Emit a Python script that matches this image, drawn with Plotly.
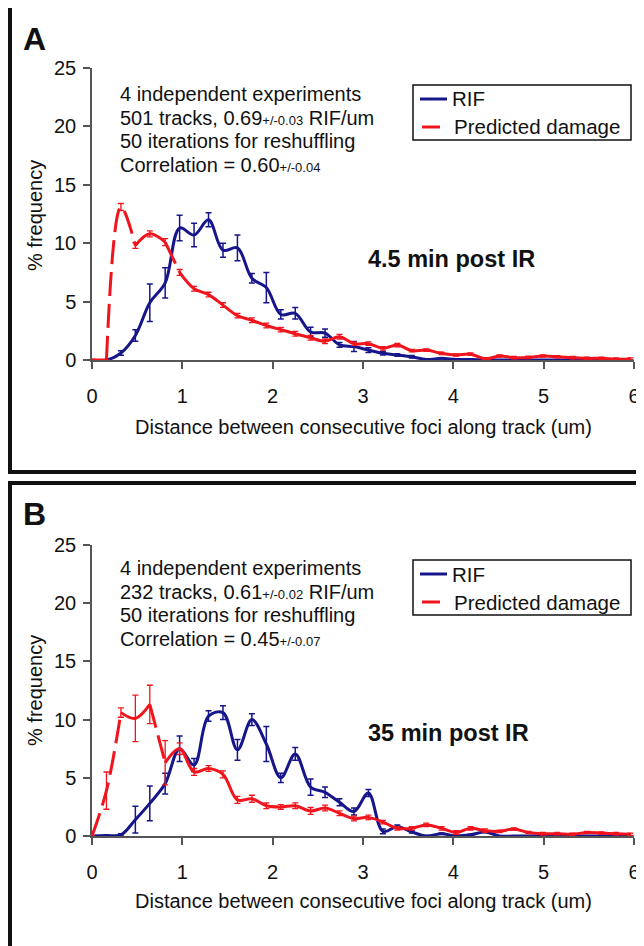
import plotly.graph_objects as go

# ---------------- data ----------------
distance_um = [0.00, 0.16, 0.32, 0.48, 0.64, 0.81, 0.97, 1.13, 1.29, 1.45,
               1.61, 1.77, 1.93, 2.09, 2.25, 2.42, 2.58, 2.74, 2.90, 3.06,
               3.22, 3.38, 3.54, 3.70, 3.87, 4.03, 4.19, 4.35, 4.51, 4.67,
               4.83, 4.99, 5.15, 5.32, 5.48, 5.64, 5.80, 5.96]

# Panel A (4.5 min post IR)
rif_a = [0.0, 0.0, 0.6, 2.1, 4.9, 6.6, 11.3, 10.7, 12.0, 9.4,
         9.6, 7.0, 6.2, 3.9, 4.0, 2.4, 2.3, 1.3, 1.15, 0.85,
         0.57, 0.43, 0.28, 0.05, 0.14, 0.05, 0.05, 0.0, 0.0, 0.0,
         0.0, 0.0, 0.0, 0.0, 0.0, 0.0, 0.0, 0.0]
rif_a_err = [0.0, 0.0, 0.2, 0.5, 1.6, 1.3, 1.1, 1.0, 0.6, 0.6,
             1.1, 0.4, 1.3, 0.4, 0.5, 0.4, 0.35, 0.2, 0.43, 0.2,
             0.15, 0.1, 0.1, 0.05, 0.05, 0.05, 0.05, 0.0, 0.0, 0.0,
             0.0, 0.0, 0.0, 0.0, 0.0, 0.0, 0.0, 0.0]
dmg_a = [0.0, 0.0, 13.1, 9.8, 10.8, 10.1, 7.5, 6.1, 5.6, 4.7,
         3.8, 3.4, 2.95, 2.6, 2.25, 1.9, 1.6, 2.0, 1.4, 1.4,
         1.0, 1.28, 0.8, 0.85, 0.57, 0.43, 0.5, 0.1, 0.34, 0.2,
         0.22, 0.34, 0.28, 0.2, 0.14, 0.14, 0.08, 0.08]
dmg_a_err = [0.0, 0.0, 0.3, 0.25, 0.25, 0.3, 0.25, 0.2, 0.2, 0.2,
             0.2, 0.2, 0.2, 0.2, 0.2, 0.2, 0.2, 0.2, 0.15, 0.15,
             0.15, 0.15, 0.1, 0.1, 0.1, 0.1, 0.1, 0.1, 0.1, 0.1,
             0.1, 0.1, 0.1, 0.1, 0.1, 0.1, 0.1, 0.1]

# Panel B (35 min post IR)
rif_b = [0.0, 0.05, 0.1, 1.4, 2.8, 4.5, 7.5, 6.1, 10.3, 10.6,
         7.4, 10.0, 7.9, 5.0, 7.05, 4.2, 3.75, 2.9, 2.1, 3.7,
         0.4, 0.8, 0.35, 0.0, 0.2, 0.0, 0.1, 0.35, 0.0, 0.0,
         0.0, 0.0, 0.0, 0.0, 0.0, 0.0, 0.0, 0.0]
rif_b_err = [0.0, 0.0, 0.1, 1.15, 1.5, 0.9, 1.1, 0.55, 0.45, 0.6,
             0.9, 0.5, 1.5, 0.4, 0.55, 0.7, 0.45, 0.3, 0.3, 0.3,
             0.2, 0.15, 0.1, 0.05, 0.05, 0.05, 0.05, 0.05, 0.0, 0.0,
             0.0, 0.0, 0.0, 0.0, 0.0, 0.0, 0.0, 0.0]
dmg_b = [0.0, 3.9, 10.6, 10.1, 11.3, 6.3, 7.5, 5.5, 5.8, 5.3,
         3.1, 3.2, 2.6, 2.5, 2.6, 2.15, 2.4, 1.95, 1.5, 1.6,
         1.2, 0.66, 0.66, 0.95, 0.66, 0.3, 0.66, 0.46, 0.4, 0.6,
         0.3, 0.2, 0.2, 0.15, 0.3, 0.25, 0.2, 0.15]
dmg_b_err = [0.0, 1.6, 0.4, 2.0, 1.65, 1.9, 0.5, 0.3, 0.25, 0.3,
             0.3, 0.3, 0.25, 0.2, 0.25, 0.3, 0.25, 0.2, 0.2, 0.2,
             0.15, 0.15, 0.15, 0.15, 0.15, 0.15, 0.15, 0.15, 0.1, 0.1,
             0.1, 0.1, 0.1, 0.1, 0.1, 0.1, 0.1, 0.1]

x_ticks = [0, 1, 2, 3, 4, 5, 6]
y_ticks = [0, 5, 10, 15, 20, 25]
legend_labels = ["RIF", "Predicted damage"]

# line style runs for the predicted damage curve (index ranges)
dmg_a_runs = [("solid", 0, 1), ("dash", 1, 3), ("solid", 3, 5), ("dash", 5, 6), ("solid", 6, 37)]
dmg_b_runs = [("dash", 0, 2), ("solid", 2, 4), ("dash", 4, 5), ("solid", 5, 37)]

# ---------------- style ----------------
W, H = 644, 946
OFF = 8  # page body margin of the html page
FONT = "Liberation Sans, Arial, Helvetica, sans-serif"
BLUE = "#16168a"
RED = "#f0141c"
AXC = "#555555"
TXT = "#111111"
DASH = "24px,8px"


def px_x(p):
    return (p - OFF) / W


def px_y(p):
    return 1 - (p - OFF) / H


fig = go.Figure()


def add_panel(rif, rif_err, dmg, dmg_err, runs, xa, ya):
    fig.add_trace(go.Scatter(
        x=distance_um, y=rif, mode="lines", name=legend_labels[0],
        line=dict(color=BLUE, width=3, shape="spline"),
        error_y=dict(type="data", array=rif_err, color=BLUE, thickness=1.5, width=3),
        xaxis=xa, yaxis=ya, showlegend=False))
    for style, i0, i1 in runs:
        fig.add_trace(go.Scatter(
            x=distance_um[i0:i1 + 1], y=dmg[i0:i1 + 1], mode="lines",
            name=legend_labels[1],
            line=dict(color=RED, width=3, shape="spline",
                      dash=DASH if style == "dash" else "solid"),
            xaxis=xa, yaxis=ya, showlegend=False))
    fig.add_trace(go.Scatter(
        x=distance_um, y=dmg, mode="markers", name=legend_labels[1],
        marker=dict(size=1, color="rgba(0,0,0,0)"),
        error_y=dict(type="data", array=dmg_err, color=RED, thickness=1.3, width=3),
        xaxis=xa, yaxis=ya, showlegend=False, hoverinfo="skip"))


add_panel(rif_a, rif_a_err, dmg_a, dmg_a_err, dmg_a_runs, "x", "y")
add_panel(rif_b, rif_b_err, dmg_b, dmg_b_err, dmg_b_runs, "x2", "y2")

xdom = [px_x(92), px_x(634)]
axis_common = dict(showgrid=False, zeroline=False, showline=True, linecolor=AXC,
                   linewidth=1.5, ticks="outside", ticklen=7, tickwidth=1.5,
                   tickcolor=AXC, tickfont=dict(size=20, color=TXT, family=FONT),
                   automargin=False)
fig.update_layout(
    xaxis=dict(domain=xdom, range=[0, 6], tickvals=x_ticks, anchor="y",
               ticklabelstandoff=10, **axis_common),
    yaxis=dict(domain=[px_y(360), px_y(68)], range=[0, 25], tickvals=y_ticks,
               anchor="x", ticklabelstandoff=3, **axis_common),
    xaxis2=dict(domain=xdom, range=[0, 6], tickvals=x_ticks, anchor="y2",
                ticklabelstandoff=10, **axis_common),
    yaxis2=dict(domain=[px_y(836), px_y(545)], range=[0, 25], tickvals=y_ticks,
                anchor="x2", ticklabelstandoff=3, **axis_common),
)

SM = "<span style='font-size:13px'>{}</span>"
text_a = ["4 independent experiments",
          "501 tracks, 0.69" + SM.format("+/-0.03") + " RIF/um",
          "50 iterations for reshuffling",
          "Correlation = 0.60" + SM.format("+/-0.04")]
text_b = ["4 independent experiments",
          "232 tracks, 0.61" + SM.format("+/-0.02") + " RIF/um",
          "50 iterations for reshuffling",
          "Correlation = 0.45" + SM.format("+/-0.07")]

ann = []
shapes = []


def text(t, x, y, size, anchor="left", angle=0):
    ann.append(dict(text=t, x=px_x(x), y=px_y(y), xref="paper", yref="paper",
                    xanchor=anchor, yanchor="middle", showarrow=False,
                    textangle=angle, font=dict(size=size, color=TXT, family=FONT)))


for lines, ys in ((text_a, [94, 118, 141, 165]), (text_b, [568, 592, 615, 639])):
    for t, yy in zip(lines, ys):
        text(t, 118, yy, 20)

text("<b>4.5 min post IR</b>", 451, 259, 23.5, "center")
text("<b>35 min post IR</b>", 448, 733, 23.5, "center")
text("<b>A</b>", 34, 39, 32, "center")
text("<b>B</b>", 34, 514, 32, "center")
for yy in (427, 901):
    text("Distance between consecutive foci along track (um)", 363, yy, 20, "center")
for yy in (216, 691):
    text("% frequency", 35, yy, 20, "center", -90)

# legend boxes (one per panel)
for dy in (0, 475):
    shapes.append(dict(type="rect", xref="paper", yref="paper",
                       x0=px_x(413), x1=px_x(631), y0=px_y(140 + dy), y1=px_y(85 + dy),
                       line=dict(color=TXT, width=1.5), fillcolor="white", layer="above"))
    shapes.append(dict(type="line", xref="paper", yref="paper",
                       x0=px_x(420), x1=px_x(447), y0=px_y(99 + dy), y1=px_y(99 + dy),
                       line=dict(color=BLUE, width=3), layer="above"))
    shapes.append(dict(type="line", xref="paper", yref="paper",
                       x0=px_x(422), x1=px_x(440), y0=px_y(127 + dy), y1=px_y(127 + dy),
                       line=dict(color=RED, width=3), layer="above"))
    text(legend_labels[0], 450, 99 + dy, 20.5)
    text(legend_labels[1], 452, 127 + dy, 20.5)

# panel frames
for y0, y1 in ((6, 472), (483, 952)):
    shapes.append(dict(type="rect", xref="paper", yref="paper",
                       x0=px_x(10), x1=px_x(656), y0=px_y(y1), y1=px_y(y0),
                       line=dict(color=TXT, width=4), fillcolor="rgba(0,0,0,0)",
                       layer="above"))

fig.update_layout(
    width=W, height=H, margin=dict(l=0, r=0, t=0, b=0),
    paper_bgcolor="white", plot_bgcolor="white",
    font=dict(family=FONT, color=TXT),
    annotations=ann, shapes=shapes, showlegend=False,
)

fig.write_html("out.html")
